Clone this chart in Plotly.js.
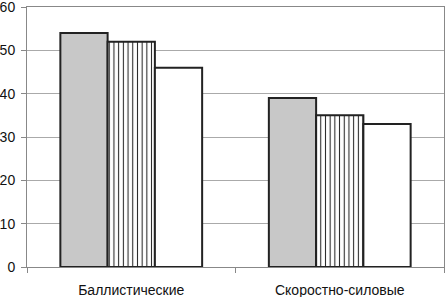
<!DOCTYPE html>
<html>
<head>
<meta charset="utf-8">
<script src="https://cdn.plot.ly/plotly-3.0.1.min.js"></script>
<style>html,body{margin:0;padding:0;background:#fff;}#chart{width:446px;height:297px;}</style>
</head>
<body>
<div id="chart"></div>
<script>
var categories = ["Баллистические", "Скоростно-силовые"];
var series1 = [54, 39];
var series2 = [52, 35];
var series3 = [46, 33];
var yTicks = [0, 10, 20, 30, 40, 50, 60];

var outline = {color: "#222222", width: 2};
var traces = [
  {type: "bar", x: categories, y: series1, marker: {color: "#c8c8c8", line: outline}},
  {type: "bar", x: categories, y: series2, marker: {color: "#ffffff", line: outline,
    pattern: {shape: "|", fgcolor: "#222222", bgcolor: "#ffffff", size: 4.7, solidity: 0.22}}},
  {type: "bar", x: categories, y: series3, marker: {color: "#ffffff", line: outline}}
];

var layout = {
  width: 446, height: 297,
  margin: {l: 27, r: 2, t: 7, b: 30},
  showlegend: false,
  barmode: "group",
  bargap: 0.32,
  bargroupgap: 0,
  paper_bgcolor: "#ffffff",
  plot_bgcolor: "#ffffff",
  font: {family: "Liberation Sans, Arial, sans-serif", size: 14, color: "#111111"},
  xaxis: {
    type: "category",
    showline: true, linecolor: "#888888", linewidth: 1, mirror: true,
    ticks: "outside", tickson: "boundaries", ticklen: 5, tickcolor: "#888888",
    ticklabelstandoff: 10,
    showgrid: false, zeroline: false
  },
  yaxis: {
    range: [0, 60], tickvals: yTicks, ticktext: yTicks.map(String),
    showline: true, linecolor: "#888888", linewidth: 1, mirror: true,
    ticks: "outside", ticklen: 5, tickcolor: "#888888",
    ticklabeloverflow: "allow", ticklabelstandoff: 3,
    tickfont: {size: 14},
    showgrid: true, gridcolor: "#aaaaaa", gridwidth: 1, zeroline: false
  }
};

Plotly.newPlot("chart", traces, layout, {displayModeBar: false, staticPlot: true});
</script>
</body>
</html>
